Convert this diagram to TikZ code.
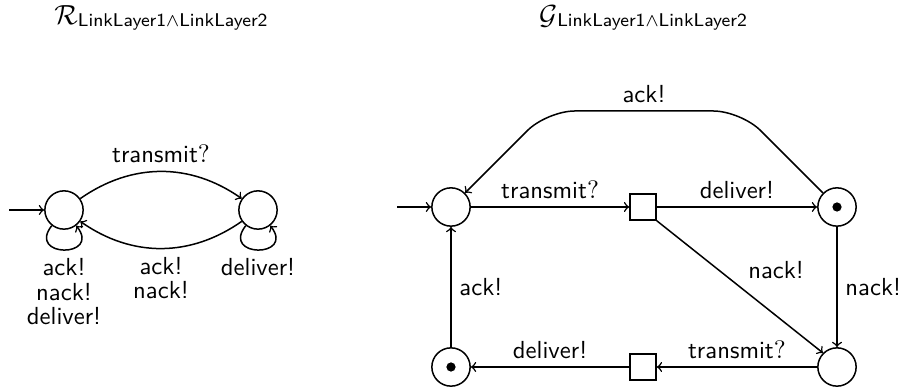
\documentclass[tikz,border=0pt]{standalone}
\begin{document}
\begin{tikzpicture}[x=0.4336pt,y=0.4336pt,line width=0.65pt,
  font=\fontsize{10.7}{10.7}\selectfont\sffamily,
  state/.style={circle,draw,minimum size=16.6pt,inner sep=0pt},
  final/.style={state,path picture={\fill (path picture bounding box.center) circle (2pt);}},
  choice/.style={rectangle,draw,minimum size=11.3pt,inner sep=0pt},
  title/.style={anchor=base,inner sep=0pt,font=\fontsize{13}{14}\selectfont\sffamily}]
\useasboundingbox (0,0) rectangle (907,-392);

% titles: calligraphic letter with a small sans subscript
\newcommand\titlesub{\raisebox{-0.8pt}{\fontsize{8}{9}\selectfont LinkLayer1$\wedge$LinkLayer2}}
\node[title] (tR) at (161,-25) {$\mathcal{R}$\titlesub};
\node[title] (tG) at (643,-25) {$\mathcal{G}$\titlesub};

% left automaton
\node[state] (l1) at (64,-210) {};
\node[state] (l2) at (258,-210) {};
\coordinate (s1) at (9,-210);
\draw[->] (s1) -- (l1);
\draw[->] (l1) to[bend left=35] node[above] {transmit$?$} (l2);
\draw[->] (l2) to[bend left=35] node[below,align=center] {ack!\\nack!} (l1);
\draw[->] (l1) to[out=232,in=308,looseness=4.3] node[below,align=center] {ack!\\nack!\\deliver!} (l1);
\draw[->] (l2) to[out=232,in=308,looseness=4.3] node[below] {deliver!} (l2);

% right automaton
\node[state] (A) at (451,-207) {};
\node[choice] (B) at (643,-207) {};
\node[final] (C) at (837,-207) {};
\node[state] (D) at (837,-367) {};
\node[choice] (E) at (643,-367) {};
\node[final] (F) at (451,-367) {};
\coordinate (s2) at (397,-207);
\coordinate (tr) at (741,-111);
\coordinate (tl) at (547,-111);

\draw[->] (s2) -- (A);
\draw[->] (A) -- node[above] {transmit$?$} (B);
\draw[->] (B) -- node[above] {deliver!} (C);
\draw[->] (B.south east) -- node[above right] {nack!} (D.135);
\draw[->] (C) -- node[right] {nack!} (D);
\draw[->] (D) -- node[above] {transmit$?$} (E);
\draw[->] (E) -- node[above] {deliver!} (F);
\draw[->] (F) -- node[right] {ack!} (A);
\draw[->,rounded corners=12] (C.135) -- (tr) -- node[above] {ack!} (tl) -- (A.45);
\end{tikzpicture}
\end{document}
